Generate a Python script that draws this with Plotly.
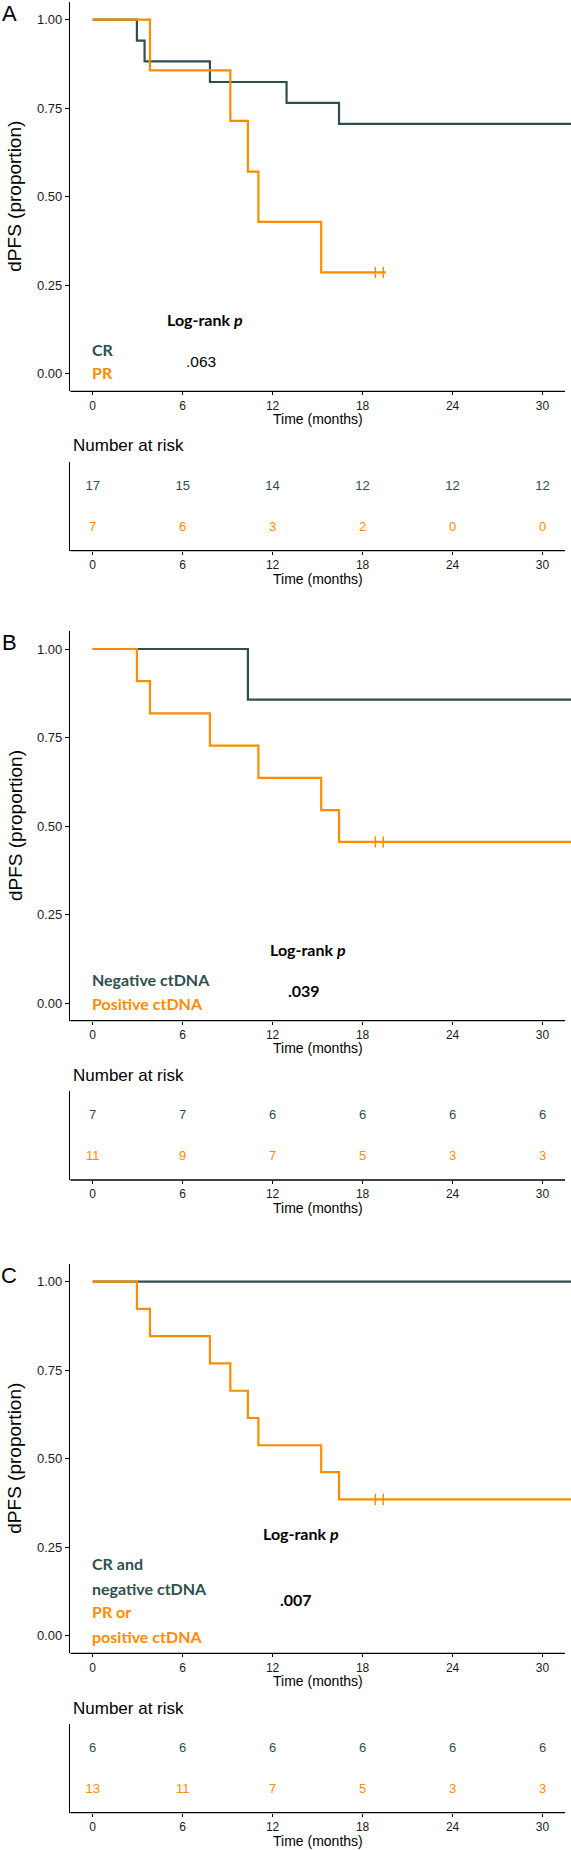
import plotly.graph_objects as go

# ---------------- data ----------------
time_ticks = [0, 6, 12, 18, 24, 30]
surv_ticks = [0, 0.25, 0.5, 0.75, 1.0]
panel_letters = ["A", "B", "C"]

# Panel A: CR vs PR
a_cr_t = [0, 2.95, 3.46, 7.82, 12.93, 16.43, 31.9]
a_cr_s = [1.0, 0.941, 0.882, 0.824, 0.765, 0.706, 0.706]
a_pr_t = [0, 3.82, 9.18, 10.35, 11.05, 15.24, 19.55]
a_pr_s = [1.0, 0.857, 0.714, 0.571, 0.429, 0.286, 0.286]
a_pr_cens_t = [18.85, 19.38]
a_pr_cens_s = [0.286, 0.286]
a_risk_1 = [17, 15, 14, 12, 12, 12]
a_risk_2 = [7, 6, 3, 2, 0, 0]
a_groups = ["CR", "PR"]
a_p = ".063"

# Panel B: negative vs positive ctDNA
b_neg_t = [0, 10.35, 31.9]
b_neg_s = [1.0, 0.857, 0.857]
b_pos_t = [0, 2.95, 3.82, 7.82, 11.05, 15.24, 16.43, 31.9]
b_pos_s = [1.0, 0.909, 0.818, 0.727, 0.636, 0.545, 0.455, 0.455]
b_pos_cens_t = [18.85, 19.38]
b_pos_cens_s = [0.455, 0.455]
b_risk_1 = [7, 7, 6, 6, 6, 6]
b_risk_2 = [11, 9, 7, 5, 3, 3]
b_groups = ["Negative ctDNA", "Positive ctDNA"]
b_p = ".039"

# Panel C: CR and negative ctDNA vs PR or positive ctDNA
c_cr_t = [0, 31.9]
c_cr_s = [1.0, 1.0]
c_pr_t = [0, 2.95, 3.82, 7.82, 9.18, 10.35, 11.05, 15.24, 16.43, 31.9]
c_pr_s = [1.0, 0.923, 0.846, 0.769, 0.692, 0.615, 0.538, 0.462, 0.385, 0.385]
c_pr_cens_t = [18.85, 19.38]
c_pr_cens_s = [0.385, 0.385]
c_risk_1 = [6, 6, 6, 6, 6, 6]
c_risk_2 = [13, 11, 7, 5, 3, 3]
c_groups = [["CR and", "negative ctDNA"], ["PR or", "positive ctDNA"]]
c_p = ".007"

# ---------------- style / layout ----------------
W, H = 571, 1850
DARK = "#2F4F4F"
ORANGE = "#FF8C00"
AX_FONT = "Liberation Sans, Arial, sans-serif"
LBL_FONT = "Lato, Open Sans, sans-serif"
X_LEFT, X_RIGHT = 70.2, 571.0
X_RANGE = [-1.5, 31.9]
X_AXIS_END = 31.5
offsets = [0, 629.3, 1262]


def yp(px):
    return 1 - px / H


def xp(px):
    return px / W


fig = go.Figure()
layout = dict(width=W, height=H, margin=dict(l=0, r=0, t=0, b=0),
              paper_bgcolor="white", plot_bgcolor="white", showlegend=False)
annotations = []
shapes = []

panels = [
    dict(dark=(a_cr_t, a_cr_s), orange=(a_pr_t, a_pr_s), cens=(a_pr_cens_t, a_pr_cens_s),
         risk=(a_risk_1, a_risk_2)),
    dict(dark=(b_neg_t, b_neg_s), orange=(b_pos_t, b_pos_s), cens=(b_pos_cens_t, b_pos_cens_s),
         risk=(b_risk_1, b_risk_2)),
    dict(dark=(c_cr_t, c_cr_s), orange=(c_pr_t, c_pr_s), cens=(c_pr_cens_t, c_pr_cens_s),
         risk=(c_risk_1, c_risk_2)),
]

# x-axis title centre: middle of the drawn axis line
x_title_px = X_LEFT + (X_RIGHT - X_LEFT) * ((X_AXIS_END + X_RANGE[0]) / 2 - X_RANGE[0]) / (X_RANGE[1] - X_RANGE[0])

for p, pan in enumerate(panels):
    off = offsets[p]
    im, ir = 2 * p + 1, 2 * p + 2
    xm = "x" if im == 1 else f"x{im}"
    ym = "y" if im == 1 else f"y{im}"
    xr, yr = f"x{ir}", f"y{ir}"
    xm_key = "xaxis" if im == 1 else f"xaxis{im}"
    ym_key = "yaxis" if im == 1 else f"yaxis{im}"

    xaxis_common = dict(domain=[xp(X_LEFT), xp(X_RIGHT)], range=X_RANGE,
                        showgrid=False, zeroline=False, showline=False,
                        ticks="outside", ticklen=3, tickwidth=1, tickcolor="black",
                        tickvals=time_ticks, ticktext=[str(t) for t in time_ticks],
                        tickfont=dict(family=AX_FONT, size=12, color="#1a1a1a"))
    layout[xm_key] = dict(xaxis_common, anchor=ym)
    layout[ym_key] = dict(domain=[yp(391.4 + off), yp(2.0 + off)], range=[-0.05, 1.05],
                          anchor=xm, showgrid=False, zeroline=False, showline=True,
                          linecolor="black", linewidth=1.3, ticks="outside", ticklen=4,
                          tickwidth=1, tickcolor="black", tickvals=surv_ticks,
                          ticktext=[f"{v:.2f}" for v in surv_ticks],
                          tickfont=dict(family=AX_FONT, size=13, color="#1a1a1a"))
    layout[f"xaxis{ir}"] = dict(xaxis_common, anchor=yr)
    layout[f"yaxis{ir}"] = dict(domain=[yp(550.7 + off), yp(461.7 + off)], range=[0.44, 2.61],
                                anchor=xr, showgrid=False, zeroline=False, showline=True,
                                linecolor="black", linewidth=1.3, showticklabels=False,
                                ticks="")

    # bottom axis lines (end at 31.5 like the reference, curves continue to the edge)
    shapes.append(dict(type="line", xref=xm, yref=f"{ym} domain", x0=X_RANGE[0], x1=X_AXIS_END,
                       y0=0, y1=0, line=dict(color="black", width=1.3)))
    shapes.append(dict(type="line", xref=xr, yref=f"{yr} domain", x0=X_RANGE[0], x1=X_AXIS_END,
                       y0=0, y1=0, line=dict(color="black", width=1.3)))

    # curves
    fig.add_trace(go.Scatter(x=pan["dark"][0], y=pan["dark"][1], mode="lines",
                             line=dict(color=DARK, width=2.2, shape="hv"),
                             xaxis=xm, yaxis=ym, hoverinfo="skip"))
    fig.add_trace(go.Scatter(x=pan["orange"][0], y=pan["orange"][1], mode="lines",
                             line=dict(color=ORANGE, width=2.2, shape="hv"),
                             xaxis=xm, yaxis=ym, hoverinfo="skip"))
    fig.add_trace(go.Scatter(x=pan["cens"][0], y=pan["cens"][1], mode="markers",
                             marker=dict(symbol="line-ns", size=8,
                                         line=dict(width=1.5, color=ORANGE)),
                             xaxis=xm, yaxis=ym, hoverinfo="skip"))
    # risk table numbers
    fig.add_trace(go.Scatter(x=time_ticks, y=[2] * len(time_ticks), mode="text",
                             text=[str(v) for v in pan["risk"][0]],
                             textfont=dict(family=AX_FONT, size=13, color=DARK),
                             xaxis=xr, yaxis=yr, cliponaxis=False, hoverinfo="skip"))
    fig.add_trace(go.Scatter(x=time_ticks, y=[1] * len(time_ticks), mode="text",
                             text=[str(v) for v in pan["risk"][1]],
                             textfont=dict(family=AX_FONT, size=13, color=ORANGE),
                             xaxis=xr, yaxis=yr, cliponaxis=False, hoverinfo="skip"))

    # titles / labels (paper coordinates)
    annotations.append(dict(text=panel_letters[p], xref="paper", yref="paper",
                            x=xp(9), y=yp(13.5 + off), xanchor="center", yanchor="middle",
                            showarrow=False, font=dict(family=AX_FONT, size=22, color="black")))
    annotations.append(dict(text="dPFS (proportion)", xref="paper", yref="paper",
                            x=xp(15), y=yp(196.7 + off), xanchor="center", yanchor="middle",
                            textangle=-90, showarrow=False,
                            font=dict(family=AX_FONT, size=19, color="black")))
    annotations.append(dict(text="Time (months)", xref="paper", yref="paper",
                            x=xp(x_title_px), y=yp(418.5 + off),
                            xanchor="center", yanchor="middle", showarrow=False,
                            font=dict(family=AX_FONT, size=14, color="black")))
    annotations.append(dict(text="Number at risk", xref="paper", yref="paper",
                            x=xp(71), y=yp(446 + off), xanchor="left", yanchor="middle",
                            showarrow=False, font=dict(family=AX_FONT, size=17, color="black")))
    annotations.append(dict(text="Time (months)", xref="paper", yref="paper",
                            x=xp(x_title_px), y=yp(min(579.0 + off, 1841)),
                            xanchor="center", yanchor="middle", showarrow=False,
                            font=dict(family=AX_FONT, size=14, color="black")))

    def lab(text, x, y, color, xanchor="left", family=LBL_FONT, bold=True, size=16):
        annotations.append(dict(text=(f"<b>{text}</b>" if bold else text), xref=xm, yref=ym,
                                x=x, y=y, xanchor=xanchor, yanchor="middle", showarrow=False,
                                font=dict(family=family, size=size, color=color)))

    if p == 0:
        lab("Log-rank <i>p</i>", 7.5, 0.154, "black", "center")
        lab(a_p, 7.2, 0.034, "black", "center", family=AX_FONT, bold=False, size=15.5)
        lab(a_groups[0], -0.15, 0.069, DARK)
        lab(a_groups[1], -0.15, 0.003, ORANGE)
    elif p == 1:
        lab("Log-rank <i>p</i>", 14.33, 0.152, "black", "center")
        lab(b_p, 14.1, 0.034, "black", "center")
        lab(b_groups[0], -0.15, 0.067, DARK)
        lab(b_groups[1], -0.15, 0.0, ORANGE)
    else:
        lab("Log-rank <i>p</i>", 13.87, 0.289, "black", "center")
        lab(c_p, 13.58, 0.102, "black", "center")
        lab(c_groups[0][0], -0.15, 0.203, DARK)
        lab(c_groups[0][1], -0.15, 0.133, DARK)
        lab(c_groups[1][0], -0.15, 0.067, ORANGE)
        lab(c_groups[1][1], -0.15, -0.002, ORANGE)

layout["annotations"] = annotations
layout["shapes"] = shapes
fig.update_layout(**layout)
fig.write_html("out.html", config={"displayModeBar": False, "staticPlot": True},
               post_script="document.body.style.margin='0px';document.body.style.padding='0px';")
